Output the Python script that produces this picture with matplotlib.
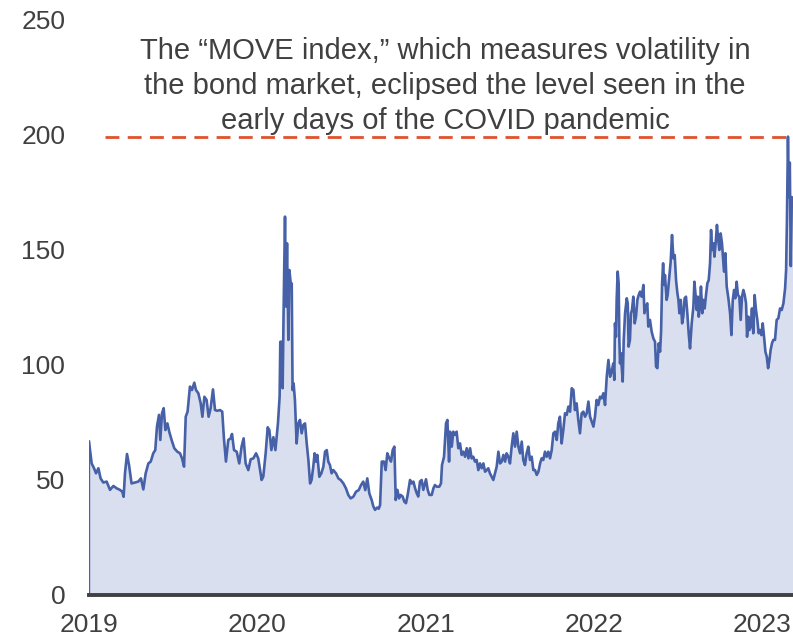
import numpy as np
import matplotlib
matplotlib.use('Agg')
import matplotlib.pyplot as plt

# MOVE index (x in decimal years)
years = [
    2019.000, 2019.006, 2019.016, 2019.030, 2019.042, 2019.056, 2019.069, 2019.085, 2019.105, 2019.125,
    2019.145, 2019.164, 2019.184, 2019.198, 2019.206, 2019.214, 2019.226, 2019.238, 2019.253, 2019.273,
    2019.293, 2019.309, 2019.323, 2019.337, 2019.353, 2019.367, 2019.382, 2019.394, 2019.404, 2019.416,
    2019.424, 2019.434, 2019.444, 2019.454, 2019.466, 2019.477, 2019.491, 2019.507, 2019.525, 2019.541,
    2019.553, 2019.565, 2019.575, 2019.586, 2019.600, 2019.612, 2019.626, 2019.636, 2019.650, 2019.664,
    2019.674, 2019.686, 2019.699, 2019.711, 2019.723, 2019.737, 2019.749, 2019.763, 2019.779, 2019.792,
    2019.802, 2019.814, 2019.828, 2019.842, 2019.850, 2019.862, 2019.878, 2019.893, 2019.907, 2019.919,
    2019.931, 2019.947, 2019.961, 2019.977, 2019.993, 2020.006, 2020.026, 2020.036, 2020.050, 2020.062,
    2020.072, 2020.084, 2020.096, 2020.108, 2020.123, 2020.133,
    2020.137, 2020.145, 2020.151, 2020.157, 2020.165, 2020.171, 2020.177, 2020.185, 2020.191, 2020.199,
    2020.205, 2020.210, 2020.216, 2020.224, 2020.234, 2020.244, 2020.254, 2020.264, 2020.274, 2020.284,
    2020.294, 2020.304, 2020.314, 2020.323, 2020.333, 2020.341, 2020.349, 2020.357, 2020.369, 2020.381,
    2020.393, 2020.403, 2020.413, 2020.422, 2020.432, 2020.442, 2020.452, 2020.468, 2020.482, 2020.496,
    2020.512, 2020.527, 2020.541, 2020.555, 2020.571, 2020.587, 2020.603, 2020.617, 2020.630, 2020.642,
    2020.654, 2020.666, 2020.680, 2020.690, 2020.700, 2020.712, 2020.722,
    2020.730, 2020.740, 2020.753, 2020.763, 2020.773, 2020.785, 2020.795, 2020.805, 2020.815, 2020.823,
    2020.833, 2020.843, 2020.852, 2020.864, 2020.874, 2020.884, 2020.894, 2020.908, 2020.918, 2020.928,
    2020.938, 2020.948, 2020.957, 2020.967, 2020.977, 2020.987, 2021.003, 2021.013, 2021.023, 2021.037,
    2021.047, 2021.056, 2021.066, 2021.082, 2021.092, 2021.098, 2021.110, 2021.122, 2021.130, 2021.140,
    2021.146, 2021.156, 2021.165, 2021.175, 2021.185, 2021.195, 2021.205, 2021.215, 2021.225, 2021.235,
    2021.245, 2021.255, 2021.265, 2021.274, 2021.284, 2021.294, 2021.304, 2021.314, 2021.324, 2021.334,
    2021.344, 2021.354, 2021.364, 2021.373, 2021.383, 2021.393, 2021.403, 2021.413, 2021.423, 2021.433,
    2021.443, 2021.453, 2021.463, 2021.473, 2021.482, 2021.492, 2021.502, 2021.512, 2021.522, 2021.532,
    2021.542, 2021.552, 2021.562, 2021.572, 2021.581, 2021.591, 2021.601, 2021.611, 2021.621, 2021.631,
    2021.641, 2021.651, 2021.661, 2021.671, 2021.681, 2021.690, 2021.700, 2021.710, 2021.720, 2021.730,
    2021.740, 2021.750, 2021.760, 2021.770, 2021.780, 2021.789, 2021.799, 2021.809, 2021.819, 2021.829,
    2021.839, 2021.849, 2021.859, 2021.869, 2021.879, 2021.888, 2021.898, 2021.908,
    2021.918, 2021.928, 2021.938, 2021.948, 2021.958, 2021.968, 2021.978, 2021.988, 2021.998, 2022.007,
    2022.017, 2022.027, 2022.037, 2022.047, 2022.057, 2022.067, 2022.077, 2022.087, 2022.097, 2022.106,
    2022.116, 2022.122, 2022.126, 2022.132, 2022.136, 2022.142, 2022.148, 2022.152, 2022.156, 2022.162,
    2022.166, 2022.172, 2022.178, 2022.186, 2022.196, 2022.202, 2022.207, 2022.215, 2022.221, 2022.227,
    2022.235, 2022.243, 2022.251, 2022.259, 2022.267, 2022.275, 2022.285, 2022.295, 2022.301, 2022.309,
    2022.318, 2022.324, 2022.334, 2022.344, 2022.354, 2022.364, 2022.370, 2022.378, 2022.386, 2022.394,
    2022.400, 2022.406, 2022.412, 2022.418, 2022.423, 2022.433, 2022.439, 2022.447, 2022.457, 2022.465,
    2022.473, 2022.481, 2022.489, 2022.497, 2022.503, 2022.509, 2022.517, 2022.525, 2022.532, 2022.540,
    2022.548, 2022.556, 2022.564, 2022.572, 2022.582, 2022.592, 2022.598, 2022.604, 2022.612, 2022.618,
    2022.624, 2022.631, 2022.637, 2022.645, 2022.651, 2022.659, 2022.667, 2022.675, 2022.683, 2022.691,
    2022.697, 2022.703, 2022.711, 2022.717, 2022.725, 2022.732, 2022.738, 2022.746, 2022.754, 2022.762,
    2022.768, 2022.774, 2022.782, 2022.790, 2022.800, 2022.810, 2022.818, 2022.826, 2022.834, 2022.841,
    2022.849, 2022.857, 2022.865, 2022.873, 2022.881, 2022.889, 2022.897, 2022.905, 2022.911, 2022.919,
    2022.925, 2022.933, 2022.940, 2022.948, 2022.956, 2022.964, 2022.972, 2022.980, 2022.988, 2022.996,
    2023.004, 2023.012, 2023.020, 2023.028, 2023.036, 2023.044, 2023.051, 2023.059, 2023.067, 2023.077,
    2023.087, 2023.097, 2023.107, 2023.117, 2023.127, 2023.137, 2023.143, 2023.148, 2023.154, 2023.160,
    2023.165, 2023.171, 2023.177, 2023.184,
]
move = [
    66.7, 63.0, 57.2, 55.1, 52.9, 55.1, 50.7, 48.9, 49.3, 45.7,
    47.4, 46.4, 45.7, 44.9, 42.7, 52.9, 61.3, 56.5, 48.5, 48.9,
    49.3, 50.7, 45.9, 52.9, 57.2, 58.0, 61.6, 63.0, 73.2, 78.3,
    67.4, 79.0, 81.2, 71.7, 74.6, 71.0, 67.4, 63.8, 62.3, 61.6,
    59.4, 55.8, 77.5, 79.7, 90.6, 89.1, 92.3, 89.1, 87.7, 83.3,
    77.5, 86.2, 84.8, 77.5, 81.2, 89.4, 80.4, 80.1, 80.4, 79.7,
    68.1, 58.0, 67.4, 68.1, 70.0, 63.0, 62.3, 57.2, 64.5, 68.1,
    57.2, 54.3, 59.0, 59.4, 61.6, 59.4, 50.0, 51.5, 61.6, 72.9,
    71.7, 63.0, 68.6, 63.0, 74.6, 86.2,
    110.1, 110.1, 89.9, 125.4, 164.5, 125.4, 152.9, 110.9, 141.3, 135.5,
    135.5, 89.1, 92.0, 84.8, 65.9, 74.6, 76.1, 70.3, 73.9, 74.6,
    65.9, 58.7, 48.5, 50.0, 55.8, 61.6, 58.0, 60.9, 51.4, 52.9,
    55.8, 62.3, 63.0, 58.0, 56.5, 52.9, 54.3, 52.9, 50.7, 50.0,
    48.5, 46.4, 43.5, 42.0, 42.7, 44.9, 45.6, 47.8, 49.3, 45.6,
    50.7, 44.2, 41.3, 38.5, 37.0, 38.0, 37.5,
    39.1, 58.0, 58.0, 54.3, 61.6, 59.4, 58.0, 63.0, 64.5, 41.3,
    45.7, 42.0, 43.5, 42.8, 40.6, 39.9, 43.5, 50.0, 48.5, 49.3,
    46.4, 44.2, 42.8, 49.3, 50.0, 45.7, 50.3, 45.7, 43.5, 43.5,
    46.4, 47.8, 47.1, 47.1, 48.5, 56.5, 60.1, 74.6, 76.1, 58.0,
    71.0, 64.5, 71.0, 69.6, 71.0, 63.8, 65.9, 60.9, 62.3, 60.1,
    63.8, 59.4, 63.8, 59.4, 60.1, 58.0, 58.7, 54.3, 57.2, 55.1,
    57.2, 53.6, 54.3, 55.1, 52.9, 51.5, 50.0, 52.9, 55.8, 62.3,
    57.2, 58.0, 60.9, 58.0, 61.6, 60.1, 57.2, 64.5, 70.3, 64.5,
    71.0, 64.5, 61.6, 66.7, 58.7, 56.5, 61.6, 64.5, 58.7, 60.1,
    54.3, 54.3, 52.2, 53.6, 57.2, 59.4, 58.7, 62.3, 60.1, 62.3,
    59.4, 63.0, 70.3, 71.0, 67.4, 74.6, 77.5, 65.9, 71.7, 79.0,
    78.3, 81.9, 79.7, 89.9, 89.1, 80.4, 83.3, 76.1,
    70.3, 79.0, 79.7, 77.5, 79.0, 84.1, 77.5, 75.4, 73.2, 77.5,
    84.8, 82.6, 86.2, 85.5, 87.7, 82.6, 94.9, 102.2, 94.9, 97.1,
    100.7, 93.5, 118.1, 112.3, 128.3, 140.6, 135.5, 110.9, 100.7, 105.1,
    99.3, 92.8, 110.9, 122.5, 129.0, 126.8, 108.0, 110.9, 122.5, 123.9,
    129.7, 118.1, 121.0, 128.3, 130.4, 131.9, 129.7, 134.8, 122.5, 125.4,
    126.8, 116.7, 119.6, 114.5, 111.6, 110.1, 99.3, 98.6, 109.4, 105.8,
    114.5, 135.5, 144.2, 134.8, 139.1, 128.3, 130.4, 136.9, 144.9, 156.5,
    146.4, 147.8, 136.9, 131.2, 128.3, 122.5, 128.3, 118.1, 121.0, 129.0,
    129.7, 122.5, 113.8, 107.2, 118.1, 125.4, 136.2, 131.2, 123.9, 129.7,
    121.0, 125.4, 134.1, 122.5, 128.3, 124.6, 130.4, 135.5, 136.9, 144.2,
    158.7, 150.0, 152.9, 147.1, 153.6, 160.9, 155.8, 150.0, 157.2, 152.9,
    146.4, 140.6, 148.6, 134.1, 129.0, 122.5, 113.0, 128.3, 132.6, 129.0,
    136.2, 130.4, 129.7, 119.6, 129.7, 132.6, 130.4, 126.8, 112.3, 121.0,
    115.2, 116.7, 124.6, 113.8, 130.4, 123.9, 119.6, 113.8, 115.2, 113.0,
    118.1, 112.3, 105.8, 103.6, 98.6, 102.2, 106.5, 109.4, 110.9, 110.9,
    119.6, 120.3, 124.6, 123.9, 126.8, 133.3, 141.3, 163.0, 199.3, 173.0,
    188.0, 143.0, 173.0, 172.0,
]
year_ticks = [2019, 2020, 2021, 2022, 2023]
value_ticks = [0, 50, 100, 150, 200, 250]
note = ("The \u201cMOVE index,\u201d which measures volatility in\n"
        "the bond market, eclipsed the level seen in the\n"
        "early days of the COVID pandemic")

plt.rcParams['font.family'] = ['Liberation Sans', 'DejaVu Sans']
text_color = '#404040'
line_color = '#4661A8'
fill_color = '#D9DFEE'

fig = plt.figure(figsize=(7.93, 6.41), dpi=100)
ax = fig.add_axes([0.1122, 0.0718, 0.8878, 0.897])

x = np.array(years)
y = np.array(move)
ax.fill_between(x, 0, y, color=fill_color, lw=0)
ax.plot(x, y, color=line_color, lw=1.9, solid_joinstyle='round')
ax.vlines(x[0], 0, y[0], color=line_color, lw=1.0)

# peak reference line
peak_i = int(np.argmax(y))
ax.hlines(y[peak_i], 2019.095, x[peak_i], colors='#E0522E', lw=2.0,
          linestyles=(0, (5, 3)))

ax.axhline(0, color=text_color, lw=2.8, clip_on=False)

ax.text(0.506, 0.885, note, transform=ax.transAxes, ha='center', va='center',
        fontsize=21, color=text_color, linespacing=1.32)

ax.set_xlim(x[0], x[-1])
ax.set_ylim(0, 250)
ax.set_xticks(year_ticks)
ax.set_xticklabels([str(t) for t in year_ticks])
ax.set_yticks(value_ticks)
ax.tick_params(axis='both', length=0, labelsize=19, labelcolor=text_color)
ax.tick_params(axis='y', pad=17)
ax.tick_params(axis='x', pad=13)
for s in ax.spines.values():
    s.set_visible(False)

fig.savefig('out.png', dpi=100)
